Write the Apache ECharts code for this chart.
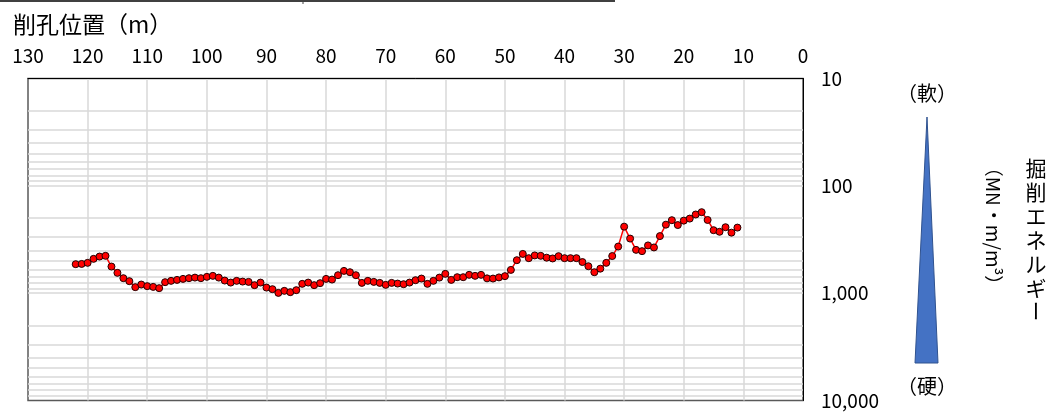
<!DOCTYPE html>
<html>
<head>
<meta charset="utf-8">
<script src="https://cdn.jsdelivr.net/npm/echarts@6/dist/echarts.min.js"></script>
<style>
  html, body { margin: 0; padding: 0; background: #fff; }
  #chart { width: 1052px; height: 413px; }
</style>
</head>
<body>
<div id="chart"></div>
<script>
// 削孔位置 (m)
const distances = [
  122, 121, 120, 119, 118, 117, 116, 115, 114, 113,
  112, 111, 110, 109, 108, 107, 106, 105, 104, 103,
  102, 101, 100, 99, 98, 97, 96, 95, 94, 93,
  92, 91, 90, 89, 88, 87, 86, 85, 84, 83,
  82, 81, 80, 79, 78, 77, 76, 75, 74, 73,
  72, 71, 70, 69, 68, 67, 66, 65, 64, 63,
  62, 61, 60, 59, 58, 57, 56, 55, 54, 53,
  52, 51, 50, 49, 48, 47, 46, 45, 44, 43,
  42, 41, 40, 39, 38, 37, 36, 35, 34, 33,
  32, 31, 30, 29, 28, 27, 26, 25, 24, 23,
  22, 21, 20, 19, 18, 17, 16, 15, 14, 13,
  12, 11
]
// 掘削エネルギー (MN・m/m3)
const energy = [
  537, 534, 522, 479, 456, 449, 565, 647, 725, 773,
  879, 831, 860, 874, 898, 790, 768, 752, 736, 725,
  716, 725, 705, 690, 716, 763, 797, 768, 780, 785,
  842, 797, 887, 918, 994, 952, 979, 938, 819, 797,
  842, 807, 736, 747, 680, 620, 638, 680, 802, 768,
  785, 802, 837, 802, 814, 825, 797, 757, 731, 819,
  768, 716, 661, 752, 710, 710, 675, 690, 675, 728,
  731, 713, 694, 607, 493, 431, 472, 445, 449, 467,
  475, 452, 472, 472, 472, 513, 561, 638, 591, 522,
  451, 368, 240, 310, 395, 406, 359, 375, 294, 230,
  209, 232, 211, 202, 185, 176, 208, 259, 268, 243,
  273, 245
]
// 対数軸の補助目盛線
const minorLines = [
  20, 30, 40, 50, 60, 70, 80, 90,
  200, 300, 400, 500, 600, 700, 800, 900,
  2000, 3000, 4000, 5000, 6000, 7000, 8000, 9000
]

const font = "'Noto Sans CJK JP', 'Noto Sans', sans-serif"
const gridColor = '#d9d9d9'

const chart = echarts.init(document.getElementById('chart'))

const option = {
  animation: false,
  textStyle: { fontFamily: font },
  title: {
    text: '削孔位置（m）',
    left: 8,
    top: 8,
    textStyle: { fontSize: 23, fontWeight: 'normal', color: '#000', fontFamily: font }
  },
  grid: {
    left: 28,
    right: 249,
    top: 78.5,
    bottom: 12.5,
    show: true,
    borderColor: '#595959',
    borderWidth: 1.5,
    backgroundColor: '#fff'
  },
  xAxis: {
    type: 'value',
    position: 'top',
    inverse: true,
    min: 0,
    max: 130,
    interval: 10,
    axisLine: { show: true, lineStyle: { color: '#000', width: 1 } },
    axisTick: { show: false },
    axisLabel: { margin: 13, fontSize: 19, color: '#000', fontFamily: font },
    splitLine: {
      show: true,
      showMinLine: false,
      showMaxLine: false,
      lineStyle: { color: gridColor, width: 1.5 }
    }
  },
  yAxis: {
    type: 'log',
    logBase: 10,
    position: 'right',
    inverse: true,
    min: 10,
    max: 10000,
    axisLine: { show: true, lineStyle: { color: '#000', width: 1 } },
    axisTick: { show: false },
    axisLabel: {
      margin: 18,
      fontSize: 19,
      color: '#000',
      fontFamily: font,
      formatter: function (v) {
        return Math.round(v).toLocaleString('en-US')
      }
    },
    splitLine: {
      show: true,
      showMinLine: false,
      showMaxLine: false,
      lineStyle: { color: gridColor, width: 1.5 }
    }
  },
  series: [
    {
      type: 'line',
      data: distances.map((d, i) => [d, energy[i]]),
      symbol: 'circle',
      symbolSize: 7,
      lineStyle: { color: '#ff0000', width: 1.5 },
      itemStyle: { color: '#ff0000', borderColor: '#200000', borderWidth: 1 },
      z: 5,
      markLine: {
        silent: true,
        symbol: 'none',
        label: { show: false },
        lineStyle: { color: gridColor, width: 1.5, type: 'solid' },
        z: 1,
        data: minorLines.map(v => ({ yAxis: v }))
      }
    }
  ],
  graphic: [
    // 上端の罫線
    { type: 'line', shape: { x1: 0, y1: 1, x2: 615, y2: 1 }, style: { stroke: '#404040', lineWidth: 2 } },
    { type: 'line', shape: { x1: 303, y1: 0, x2: 303, y2: 4 }, style: { stroke: '#404040', lineWidth: 1 } },
    // 軟硬の三角形
    {
      type: 'polygon',
      shape: { points: [[927, 117], [915, 363], [938, 363]] },
      style: { fill: '#4472c4', stroke: '#2f528f', lineWidth: 1 }
    },
    {
      type: 'text', x: 927, y: 93,
      style: { text: '（軟）', font: '20px ' + font, fill: '#000', align: 'center', verticalAlign: 'middle' }
    },
    {
      type: 'text', x: 927, y: 386,
      style: { text: '（硬）', font: '20px ' + font, fill: '#000', align: 'center', verticalAlign: 'middle' }
    },
    {
      type: 'text', x: 993, y: 226, rotation: -Math.PI / 2,
      style: { text: '（MN・m/m³）', font: '19px ' + font, fill: '#000', align: 'center', verticalAlign: 'middle' }
    },
    {
      type: 'text', x: 1036, y: 156,
      style: { text: '掘\n削\nエ\nネ\nル\nギ', font: '21px ' + font, lineHeight: 24, fill: '#000', align: 'center', verticalAlign: 'top' }
    },
    {
      type: 'text', x: 1036, y: 311, rotation: -Math.PI / 2,
      style: { text: 'ー', font: '21px ' + font, fill: '#000', align: 'center', verticalAlign: 'middle' }
    }
  ]
}

chart.setOption(option)
</script>
</body>
</html>
